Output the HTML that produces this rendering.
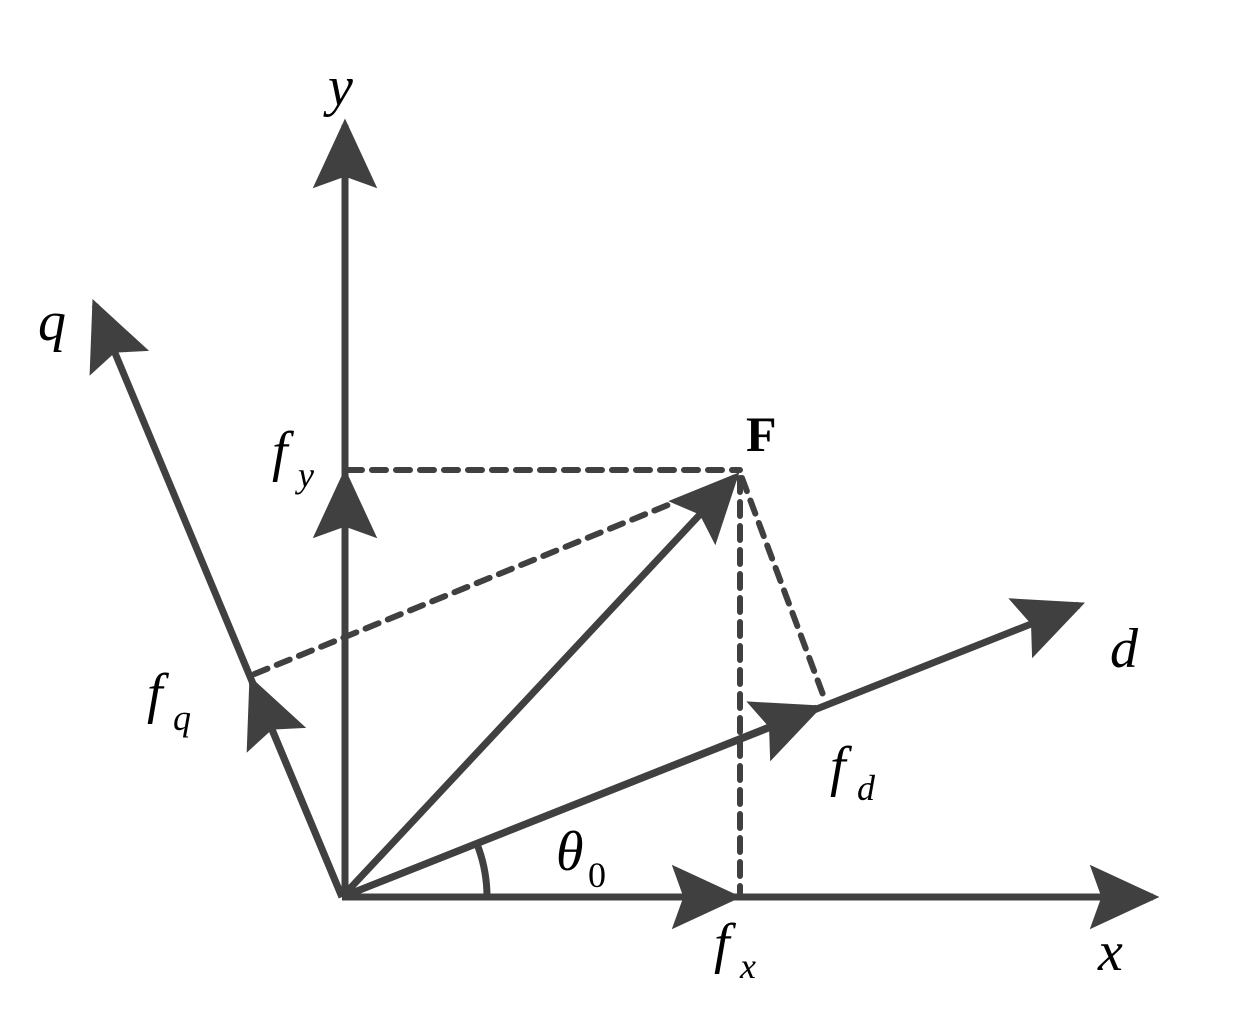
<!DOCTYPE html>
<html><head><style>
html,body{margin:0;padding:0;background:#fff;}
svg{display:block;}
text{font-family:"Liberation Serif",serif;fill:#000;}
</style></head><body>
<svg width="1237" height="1017" viewBox="0 0 1237 1017" xmlns="http://www.w3.org/2000/svg">
<defs>
<marker id="ah" markerUnits="userSpaceOnUse" markerWidth="80" markerHeight="80" viewBox="-60 -30 62 60" refX="-5" refY="0" orient="auto">
<path d="M0,0 L-54,-25 L-45,0 L-54,25 Z" fill="#404040"/>
</marker>
</defs>
<g stroke="#404040" stroke-width="7" fill="none">
<g stroke-dasharray="14 10" stroke-linecap="round" stroke-width="6">
<line x1="348" y1="470" x2="740" y2="470"/>
<line x1="740" y1="478" x2="740" y2="893"/>
<line x1="742" y1="478" x2="825" y2="700"/>
<line x1="734" y1="478" x2="252" y2="675"/>
</g>
<line x1="342" y1="897" x2="1153" y2="897" marker-end="url(#ah)"/>
<line x1="345" y1="897" x2="345" y2="125" marker-end="url(#ah)"/>
<line x1="342" y1="897" x2="95" y2="305" marker-end="url(#ah)"/>
<line x1="342" y1="897" x2="1079" y2="605" marker-end="url(#ah)"/>
<line x1="342" y1="897" x2="735" y2="477" marker-end="url(#ah)"/>
<line x1="345" y1="897" x2="345" y2="475" marker-end="url(#ah)"/>
<line x1="342" y1="897" x2="735" y2="897" marker-end="url(#ah)"/>
<line x1="342" y1="897" x2="817" y2="708" marker-end="url(#ah)"/>
<line x1="342" y1="897" x2="252" y2="682" marker-end="url(#ah)"/>
<path d="M476.8,843.6 A145,145 0 0 1 487,897"/>
</g>
<g font-style="italic">
<text x="328" y="105" font-size="56">y</text>
<text x="38" y="340" font-size="56">q</text>
<text x="1110" y="667" font-size="56">d</text>
<text x="1098" y="970" font-size="56">x</text>
<text x="272" y="470" font-size="56">f</text>
<text x="298" y="487" font-size="36">y</text>
<text x="147" y="712" font-size="56">f</text>
<text x="173" y="730" font-size="36">q</text>
<text x="830" y="785" font-size="56">f</text>
<text x="857" y="800" font-size="36">d</text>
<text x="714" y="962" font-size="56">f</text>
<text x="740" y="978" font-size="36">x</text>
<text x="556" y="870" font-size="56">θ</text>
</g>
<text x="588" y="887" font-size="36">0</text>
<text x="746" y="451" font-size="50" font-weight="bold">F</text>
</svg>
</body></html>
